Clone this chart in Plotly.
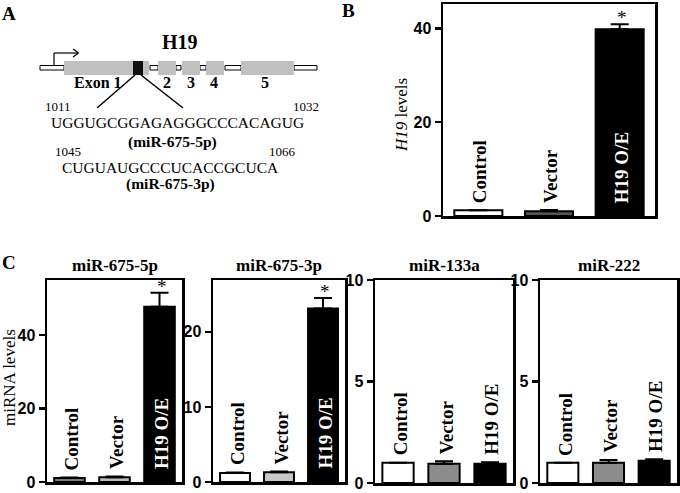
import plotly.graph_objects as go

W, H = 680, 493

# ---------------- data ----------------
groups = ["Control", "Vector", "H19 O/E"]

h19_levels = [1.2, 1.0, 39.8]
h19_err = [0.0, 0.3, 1.1]

mir675_5p = [1.1, 1.3, 47.7]
mir675_5p_err = [0.1, 0.2, 3.8]

mir675_3p = [1.2, 1.3, 23.1]
mir675_3p_err = [0.05, 0.1, 1.4]

mir133a = [1.0, 0.95, 0.95]
mir133a_err = [0.0, 0.12, 0.07]

mir222 = [1.0, 1.0, 1.1]
mir222_err = [0.0, 0.13, 0.07]

seq_5p = "UGGUGCGGAGAGGGCCCACAGUG"
seq_3p = "CUGUAUGCCCUCACCGCUCA"

# ---------------- helpers ----------------
def px(x):
    return x / W

def py(y):
    return 1 - y / H

SERIF = "Liberation Serif"
SANS = "Liberation Sans"

panels = [
    dict(v=h19_levels, e=h19_err, c=["white", "#555555", "black"],
         xd=(443, 655), yd=(4, 216), ymax=45.2, ticks=[0, 20, 40], title=None, star=True, inside=True),
    dict(v=mir675_5p, e=mir675_5p_err, c=["#7a7a7a", "#bdbdbd", "black"],
         xd=(47, 182), yd=(280, 482), ymax=55, ticks=[0, 20, 40], title="miR-675-5p", star=True, inside=True),
    dict(v=mir675_3p, e=mir675_3p_err, c=["white", "#c8c8c8", "black"],
         xd=(213, 345), yd=(280, 482), ymax=26.9, ticks=[0, 10, 20], title="miR-675-3p", star=True, inside=True),
    dict(v=mir133a, e=mir133a_err, c=["white", "#8c8c8c", "black"],
         xd=(375, 513), yd=(280, 483), ymax=10, ticks=[0, 5, 10], title="miR-133a", star=False, inside=False),
    dict(v=mir222, e=mir222_err, c=["white", "#8c8c8c", "black"],
         xd=(540, 677), yd=(280, 483), ymax=10, ticks=[0, 5, 10], title="miR-222", star=False, inside=False),
]

fig = go.Figure()
annotations = []
shapes = []

for i, p in enumerate(panels):
    n = "" if i == 0 else str(i + 1)
    xa, ya = "x" + n, "y" + n
    fig.add_trace(go.Bar(
        x=groups, y=p["v"], xaxis=xa, yaxis=ya,
        marker=dict(color=p["c"], line=dict(color="black", width=2)),
        error_y=dict(type="data", symmetric=False, array=p["e"], arrayminus=[0] * 3,
                     color="black", thickness=2, width=9),
        showlegend=False, hoverinfo="skip",
    ))
    axis_common = dict(showline=True, linecolor="black", linewidth=2.5, mirror=True,
                       showgrid=False, zeroline=False, automargin=False)
    fig.layout["xaxis" + n] = dict(domain=[px(p["xd"][0]), px(p["xd"][1])], anchor=ya,
                                   showticklabels=False, ticks="", fixedrange=True,
                                   **axis_common)
    fig.layout["yaxis" + n] = dict(domain=[py(p["yd"][1]), py(p["yd"][0])], anchor=xa,
                                   range=[0, p["ymax"]], tickvals=p["ticks"],
                                   ticktext=["<b>%d</b>" % t for t in p["ticks"]],
                                   ticks="outside", ticklen=6, tickwidth=2.5, tickcolor="black",
                                   tickfont=dict(family=SANS, size=16, color="black", weight="bold"),
                                   fixedrange=True, **axis_common)
    for j, g in enumerate(groups):
        inside = p["inside"] and j == 2
        annotations.append(dict(
            x=g, xref=xa, y=0 if inside else p["v"][j] + p["e"][j], yref=ya,
            text=g, textangle=-90, showarrow=False, xanchor="center", yanchor="bottom",
            yshift=11 if inside else 5, xshift=2,
            font=dict(family=SERIF, size=19, color="white" if inside else "black", weight="bold"),
        ))
    if p["star"]:
        annotations.append(dict(
            x=groups[2], xref=xa, y=p["v"][2] + p["e"][2], yref=ya, text="*",
            showarrow=False, yanchor="bottom", xanchor="center", yshift=-6, xshift=2,
            font=dict(family=SERIF, size=19, color="black"),
        ))
    if p["title"]:
        annotations.append(dict(
            x=px((p["xd"][0] + p["xd"][1]) / 2), y=py(265), xref="paper", yref="paper",
            text=p["title"], showarrow=False, xanchor="center", yanchor="middle",
            font=dict(family=SERIF, size=17, color="black", weight="bold"),
        ))

# axis titles
annotations.append(dict(x=px(402), y=py(115), xref="paper", yref="paper",
                        text="<i>H19</i> levels", textangle=-90, showarrow=False,
                        xanchor="center", yanchor="middle",
                        font=dict(family=SERIF, size=17, color="black")))
annotations.append(dict(x=px(9), y=py(378), xref="paper", yref="paper",
                        text="miRNA levels", textangle=-90, showarrow=False,
                        xanchor="center", yanchor="middle",
                        font=dict(family=SERIF, size=17, color="black")))

# panel letters
for letter, (lx, ly) in {"A": (9, 13), "B": (349, 11), "C": (9, 262)}.items():
    annotations.append(dict(x=px(lx), y=py(ly), xref="paper", yref="paper", text=letter,
                            showarrow=False, xanchor="center", yanchor="middle",
                            font=dict(family=SERIF, size=19, color="black", weight="bold")))

# ---------------- panel A gene diagram ----------------
def rect(x0, x1, y0, y1, fill, line_w=0, line_c="black"):
    shapes.append(dict(type="rect", xref="paper", yref="paper",
                       x0=px(x0), x1=px(x1), y0=py(y1), y1=py(y0),
                       fillcolor=fill, line=dict(width=line_w, color=line_c)))

def line(x0, y0, x1, y1, w=1.5):
    shapes.append(dict(type="line", xref="paper", yref="paper",
                       x0=px(x0), y0=py(y0), x1=px(x1), y1=py(y1),
                       line=dict(color="black", width=w)))

introns = [(40, 64), (150, 158), (176, 181), (200, 206), (225, 241), (294, 317)]
exons = [(64, 149), (158, 176), (182, 200), (206, 224), (241, 294)]
for a, b in introns:
    rect(a, b, 65.5, 70, "white", 1, "black")
for a, b in exons:
    rect(a, b, 61, 75, "#c0c0c0")
rect(133, 143, 61, 75, "#111111")

# promoter arrow
line(54, 66, 54, 53, 1.2)
line(54, 53, 78, 53, 1.2)
line(73, 49, 78.5, 53, 1.2)
line(73, 57, 78.5, 53, 1.2)

# zoom lines
line(135, 75, 97, 108, 1.5)
line(141, 75, 183, 108, 1.5)

def txt(x, y, s, size, bold=False):
    annotations.append(dict(x=px(x), y=py(y), xref="paper", yref="paper", text=s,
                            showarrow=False, xanchor="center", yanchor="middle",
                            font=dict(family=SERIF, size=size, color="black",
                                      weight="bold" if bold else "normal")))

txt(180, 42, "H19", 20, True)
txt(98, 83, "Exon 1", 16, True)
for s, x in [("2", 167), ("3", 191), ("4", 214), ("5", 265)]:
    txt(x, 83, s, 16, True)
txt(58, 106.5, "1011", 13)
txt(306, 106.5, "1032", 13)
txt(177, 123, seq_5p, 15.5)
txt(172, 142, "(miR-675-5p)", 15.5, True)
txt(68, 151, "1045", 13)
txt(282, 151, "1066", 13)
txt(170, 167, seq_3p, 15.5)
txt(170, 184, "(miR-675-3p)", 15.5, True)

fig.update_layout(
    template="none",
    width=W, height=H, margin=dict(l=0, r=0, t=0, b=0, pad=0, autoexpand=False),
    paper_bgcolor="white", plot_bgcolor="white",
    bargap=0.32, annotations=annotations, shapes=shapes,
)

fig.write_html("out.html", config={"displayModeBar": False, "staticPlot": True},
               post_script="document.body.style.margin='0';document.body.style.overflow='hidden';")
